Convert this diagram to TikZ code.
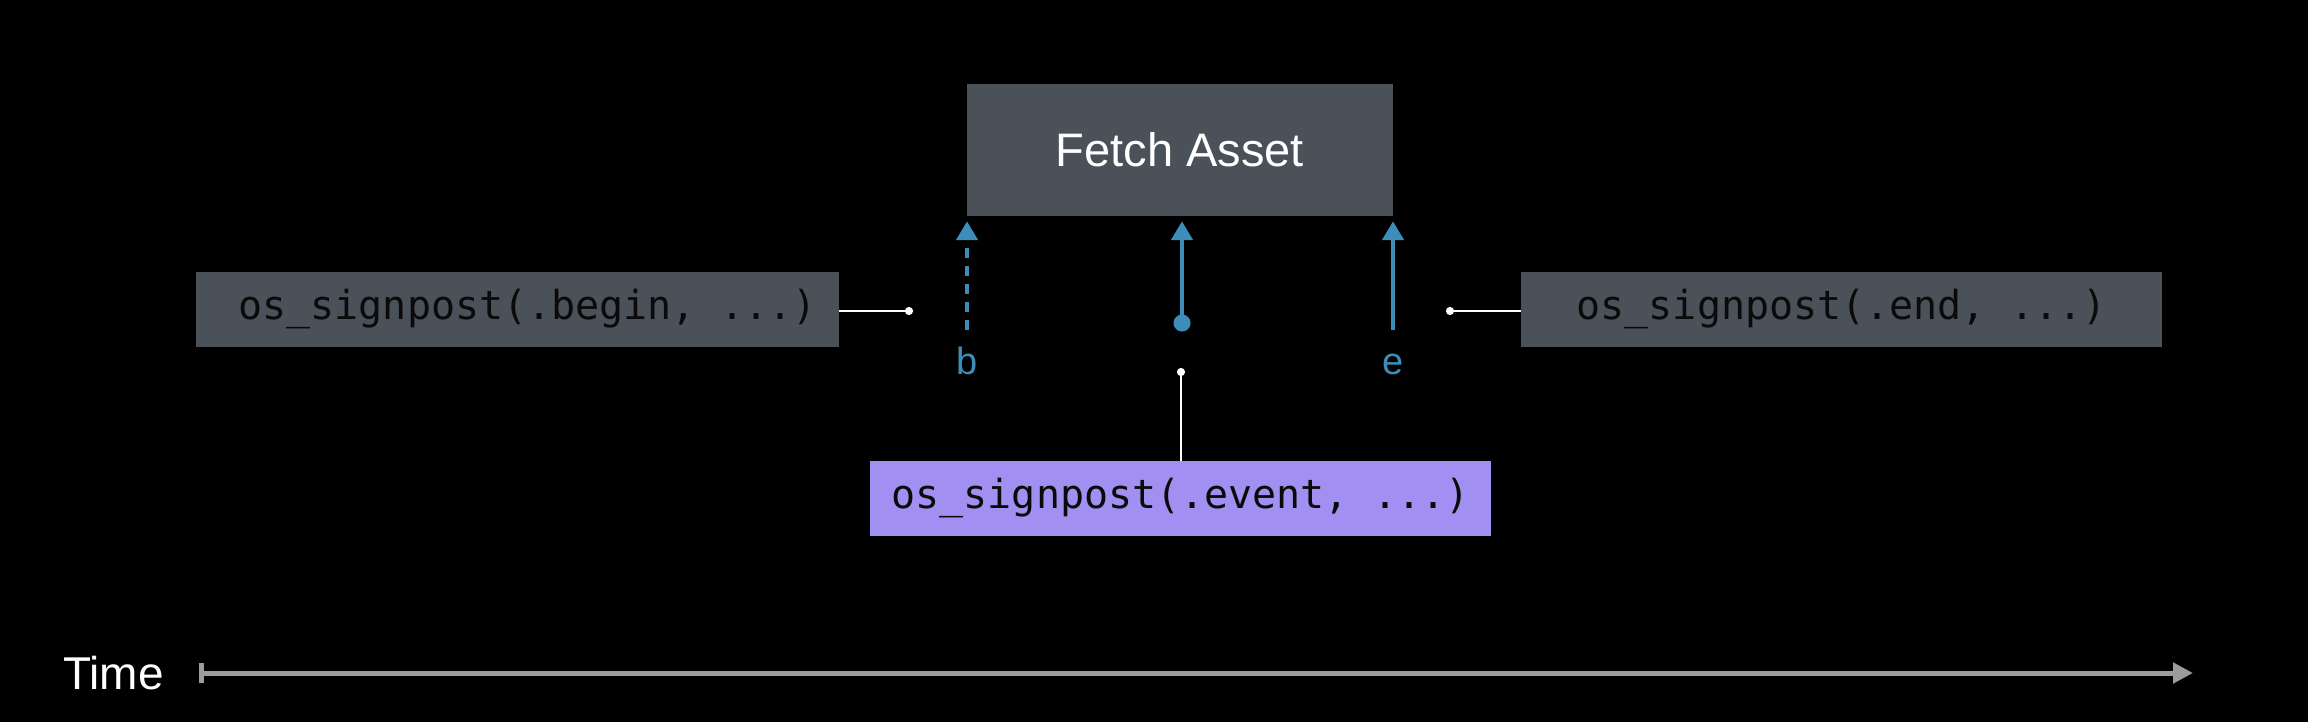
\documentclass[tikz,border=0pt]{standalone}
\usepackage{fontspec}
\setmainfont{Liberation Sans}
\setmonofont{DejaVu Sans Mono}
\usetikzlibrary{arrows.meta}
\definecolor{boxgray}{HTML}{4A5158}
\definecolor{sigblue}{HTML}{3D8DBB}
\definecolor{evpurple}{HTML}{A18FF1}
\definecolor{linegray}{HTML}{9C9C9C}
\definecolor{codeink}{HTML}{0A0A0A}
\tikzset{
  callbox/.style={fill=boxgray, draw=none, inner sep=0pt, minimum height=75pt,
    font=\ttfamily\fontsize{40}{40}\selectfont, text=codeink},
  evbox/.style={callbox, fill=evpurple},
  sigarrow/.style={draw=sigblue, line width=4.8pt, -{Triangle[width=21pt,length=19pt]}},
  leader/.style={draw=white, line width=2.5pt, -{Circle[length=8pt]}},
  siglabel/.style={text=sigblue, font=\fontsize{38}{38}\selectfont, inner sep=0pt, anchor=base},
}
\begin{document}
\begin{tikzpicture}[x=1pt,y=-1pt]
\fill[black] (0,0) rectangle (2308,722);
\useasboundingbox (0,0) rectangle (2308,722);

% main box
\node[fill=boxgray, inner sep=0pt, minimum width=426pt, minimum height=132pt,
      text=white, font=\fontsize{47}{47}\selectfont] (fetch) at (1180,150) {Fetch Asset};

% call boxes
\node[callbox, minimum width=643pt] (beginbox) at (517.5,309.5) {\hspace*{20pt}os\_signpost(.begin, ...)};
\node[callbox, minimum width=641pt] (endbox) at (1841.5,309.5) {os\_signpost(.end, ...)};
\node[evbox, minimum width=621pt] (eventbox) at (1180.5,498.5) {os\_signpost(.event, ...)};

% signpost arrows
\coordinate (bbot) at (967,330);
\coordinate (ebot) at (1393,330);
\coordinate (mbot) at (1182,331.5);
\draw[sigarrow, dash pattern=on 10pt off 8pt] (bbot) -- ([yshift=-5pt]bbot |- fetch.south);
\draw[sigarrow, {Circle[length=17pt]}-{Triangle[width=21pt,length=19pt]}] (mbot) -- ([yshift=-5pt]mbot |- fetch.south);
\draw[sigarrow] (ebot) -- ([yshift=-5pt]ebot |- fetch.south);

\node[siglabel] (blabel) at (967,374) {b};
\node[siglabel] (elabel) at (1393,374) {e};

% leaders
\coordinate (bdot) at (913,311);
\coordinate (edot) at (1446,311);
\coordinate (evdot) at (1181,368);
\draw[leader] (beginbox.east |- bdot) -- (bdot);
\draw[leader] (endbox.west |- edot) -- (edot);
\draw[leader] (eventbox.north -| evdot) -- (evdot);

% time axis
\node[text=white, font=\fontsize{46}{46}\selectfont, inner sep=0pt, anchor=west] (time) at (63,673) {Time};
\coordinate (tstart) at (199,673);
\coordinate (tend) at (2193,673);
\draw[draw=linegray, line width=5pt, {Bar[width=20pt,line width=5pt]}-{Triangle[width=20pt,length=20pt]}] (tstart) -- (tend);
\end{tikzpicture}
\end{document}
